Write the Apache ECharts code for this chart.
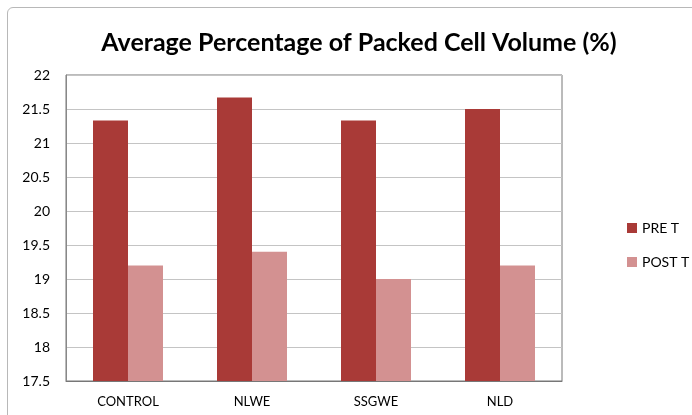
<!DOCTYPE html>
<html>
<head>
<meta charset="utf-8">
<script src="https://cdn.jsdelivr.net/npm/echarts@6/dist/echarts.min.js"></script>
<style>
html, body { margin: 0; padding: 0; background: #fff; }
#frame { position: absolute; left: 7px; top: 7px; width: 700px; height: 420px; border: 1px solid #b8b8b8; border-radius: 6px; }
#main { position: absolute; left: 0; top: 0; width: 692px; height: 415px; }
</style>
</head>
<body>
<div id="frame"></div>
<div id="main"></div>
<script>
// values
var categories = ['CONTROL', 'NLWE', 'SSGWE', 'NLD'];
var preT = [21.33, 21.67, 21.33, 21.5];
var postT = [19.2, 19.4, 19.0, 19.2];

var chart = echarts.init(document.getElementById('main'));
var font = 'Lato, "Open Sans", sans-serif';

chart.setOption({
  animation: false,
  title: {
    text: 'Average Percentage of Packed Cell Volume (%)',
    left: 354, top: 25, textAlign: 'center',
    textStyle: { fontFamily: font, fontSize: 25, fontWeight: 'bold', color: '#000' }
  },
  legend: {
    orient: 'vertical', left: 622, top: 216,
    itemWidth: 10, itemHeight: 10, itemGap: 20,
    icon: 'rect',
    textStyle: { fontFamily: font, fontSize: 14, color: '#000' },
    data: ['PRE T', 'POST T']
  },
  grid: { left: 66, right: 130, top: 75, bottom: 34, show: true, borderColor: '#777', borderWidth: 1 },
  xAxis: {
    type: 'category', data: categories,
    axisLine: { lineStyle: { color: '#777' } },
    axisTick: { show: false },
    axisLabel: { fontFamily: font, fontSize: 13, color: '#000', margin: 14 }
  },
  yAxis: {
    type: 'value', min: 17.5, max: 22, interval: 0.5,
    axisLine: { show: true, lineStyle: { color: '#888' } },
    axisTick: { show: false },
    axisLabel: { fontFamily: font, fontSize: 14, color: '#000', margin: 16 },
    splitLine: { lineStyle: { color: '#c4c4c4' } }
  },
  series: [
    { name: 'PRE T', type: 'bar', data: preT, barWidth: 35, barGap: '0%', itemStyle: { color: '#A93A37' } },
    { name: 'POST T', type: 'bar', data: postT, barWidth: 35, itemStyle: { color: '#D39191' } }
  ]
});
</script>
</body>
</html>
